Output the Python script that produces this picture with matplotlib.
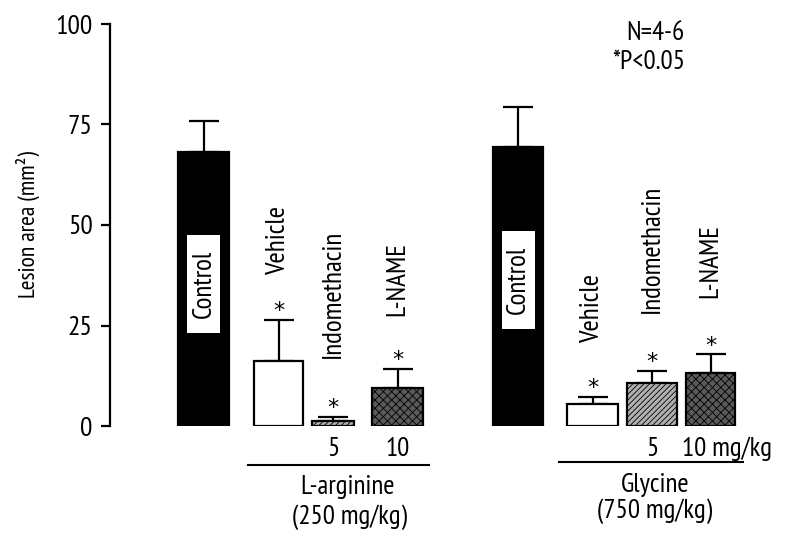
import matplotlib
matplotlib.use('Agg')
import matplotlib.pyplot as plt
from matplotlib.patches import Rectangle

plt.rcParams['font.family'] = ['PT Sans Narrow', 'DejaVu Sans']
plt.rcParams['hatch.color'] = '#222222'
plt.rcParams['hatch.linewidth'] = 0.6

# valores
grupos = ['L-arginine', 'Glycine']
dosis_grupo = ['(250 mg/kg)', '(750 mg/kg)']
tratamientos = ['Control', 'Vehicle', 'Indomethacin', 'L-NAME']
media_arg = [68.2, 16.2, 1.2, 9.4]
error_arg = [7.7, 10.2, 1.0, 4.7]
media_gly = [69.5, 5.5, 10.6, 13.3]
error_gly = [9.8, 1.8, 3.1, 4.5]
signif = [False, True, True, True]
dosis = ['', '', '5', '10']

# posiciones (en pixeles de la figura) y estilos
pos_arg = [203.5, 278.5, 333, 397.5]
anchos_arg = [51, 49, 42, 51]
pos_gly = [518, 592.5, 652, 710.5]
anchos_gly = [50, 51, 50, 49]
colores = ['black', 'white', '#b0b0b0', '#5a5a5a']
tramas = ['', '', '//////', 'xxxx']
fs = 19.5

fig = plt.figure(figsize=(8, 5.45), dpi=100)
ax = fig.add_axes([110 / 800, 119 / 545, 680 / 800, 402 / 545])
ax.set_xlim(110, 790)
ax.set_ylim(0, 100)

def dibujar_grupo(pos, anchos, media, error, etiquetas_y, control_y):
    for i in range(4):
        ax.bar(pos[i], media[i], width=anchos[i], color=colores[i], hatch=tramas[i],
               edgecolor='black', linewidth=1.6, zorder=2)
        ax.errorbar(pos[i], media[i], yerr=[[0], [error[i]]], fmt='none', ecolor='black',
                    elinewidth=1.6, capsize=11, capthick=1.6, zorder=1)
        tope = media[i] + error[i]
        if signif[i]:
            ax.text(pos[i], tope + 2.2, '*', ha='center', va='center', fontsize=16,
                    family='DejaVu Sans')
        if i == 0:
            ax.add_patch(Rectangle((pos[i] - 16.5, control_y - 12.2), 33, 24.4,
                                   facecolor='white', edgecolor='none', zorder=3))
            ax.text(pos[i], control_y, 'Control', rotation=90, ha='center', va='center',
                    fontsize=fs, zorder=4)
        else:
            ax.text(pos[i], etiquetas_y[i], tratamientos[i], rotation=90, ha='center',
                    va='bottom', fontsize=fs)

dibujar_grupo(pos_arg, anchos_arg, media_arg, error_arg, [0, 37.6, 16.9, 27.4], 35.3)
dibujar_grupo(pos_gly, anchos_gly, media_gly, error_gly, [0, 20.6, 28.1, 31.8], 36.4)

# dosis debajo de las barras
for i in range(2, 4):
    ax.text(pos_arg[i], -5.7, dosis[i], ha='center', va='center', fontsize=fs)
ax.text(pos_gly[2], -5.7, dosis[2], ha='center', va='center', fontsize=fs)
ax.text(682, -5.7, dosis[3] + ' mg/kg', ha='left', va='center', fontsize=fs)

# lineas de grupo
ax.plot([248, 429], [-9.7, -9.7], color='black', lw=1.5, clip_on=False)
ax.plot([559, 743], [-9.0, -9.0], color='black', lw=1.5, clip_on=False)
ax.text(348, -15.1, grupos[0], ha='center', va='center', fontsize=fs)
ax.text(350, -22.6, dosis_grupo[0], ha='center', va='center', fontsize=fs)
ax.text(655, -14.7, grupos[1], ha='center', va='center', fontsize=fs)
ax.text(655, -21.3, dosis_grupo[1], ha='center', va='center', fontsize=fs)

ax.text(685, 97.8, 'N=4-6', ha='right', va='center', fontsize=fs)
ax.text(685, 90.5, '*P<0.05', ha='right', va='center', fontsize=fs)

ax.set_yticks([0, 25, 50, 75, 100])
ax.tick_params(axis='y', direction='out', length=6.5, width=1.6, labelsize=20, pad=6)
ax.set_xticks([])
for lado in ['top', 'right', 'bottom']:
    ax.spines[lado].set_visible(False)
ax.spines['left'].set_linewidth(1.6)
ax.set_ylabel('Lesion area (mm²)', fontsize=17)
ax.yaxis.set_label_coords(-0.103, 0.5)

fig.savefig('out.png', dpi=100)
